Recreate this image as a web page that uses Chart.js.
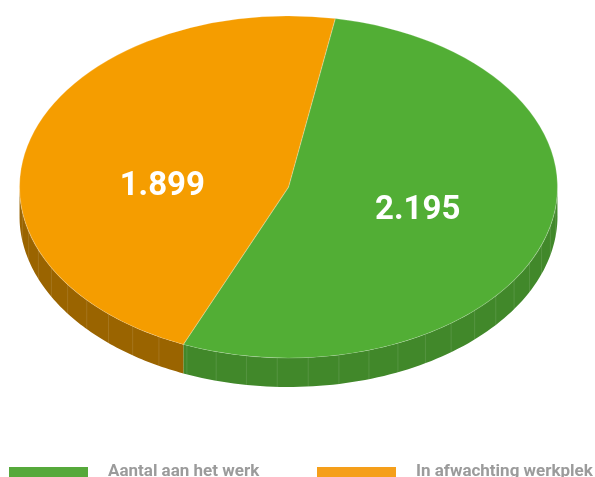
<!DOCTYPE html>
<html>
<head>
<meta charset="utf-8">
<script src="https://cdn.jsdelivr.net/npm/chart.js@4"></script>
<style>
  html, body { margin: 0; padding: 0; background: #fff; }
  #wrap { width: 595px; height: 477px; position: relative; overflow: hidden; }
</style>
</head>
<body>
<div id="wrap"><canvas id="pie" width="595" height="477"></canvas></div>
<script>
'use strict';

// ---- Data ----
const categories = ['Aantal aan het werk', 'In afwachting werkplek'];
const values     = [2195, 1899];

// ---- Styles ----
const topColors  = ['#52ae35', '#f59d00'];
const sideColors = ['#41882a', '#9a6400'];
const legendColors = ['#56a93b', '#f59f1a'];

// 3D ellipse geometry (screen px)
const CX = 288.5, CY = 187, RX = 269, RY = 171, DEPTH = 29;

function fmtNL(v) {
  return String(v).replace(/\B(?=(\d{3})+(?!\d))/g, '.');
}

function ex(t) { return CX + RX * Math.cos(t); }
function ey(t) { return CY + RY * Math.sin(t); }

// parts of [a,b] that face the viewer (lower half of the ellipse)
function visibleRanges(a, b) {
  const out = [];
  for (let k = -2; k <= 2; k++) {
    const lo = Math.max(a, k * 2 * Math.PI);
    const hi = Math.min(b, k * 2 * Math.PI + Math.PI);
    if (hi > lo) out.push([lo, hi]);
  }
  return out;
}

const pie3d = {
  id: 'pie3d',
  beforeDatasetsDraw(chart) {
    const ctx = chart.ctx;
    const meta = chart.getDatasetMeta(0);

    // ---- side walls ----
    meta.data.forEach((arc, i) => {
      visibleRanges(arc.startAngle, arc.endAngle).forEach(([a, b]) => {
        const steps = 80;
        ctx.beginPath();
        for (let s = 0; s <= steps; s++) {
          const t = a + (b - a) * s / steps;
          s === 0 ? ctx.moveTo(ex(t), ey(t)) : ctx.lineTo(ex(t), ey(t));
        }
        for (let s = steps; s >= 0; s--) {
          const t = a + (b - a) * s / steps;
          ctx.lineTo(ex(t), ey(t) + DEPTH);
        }
        ctx.closePath();
        ctx.fillStyle = sideColors[i];
        ctx.fill();

        // faint facet edges
        ctx.strokeStyle = 'rgba(255,255,255,0.11)';
        ctx.lineWidth = 1;
        const step = 6.6 * Math.PI / 180;
        for (let t = Math.ceil(a / step) * step; t < b; t += step) {
          ctx.beginPath();
          ctx.moveTo(ex(t), ey(t));
          ctx.lineTo(ex(t), ey(t) + DEPTH);
          ctx.stroke();
        }
      });
    });

    // ---- squash the top face into the ellipse ----
    const arc0 = meta.data[0];
    const R = arc0.outerRadius;
    ctx.save();
    ctx.translate(CX, CY);
    ctx.scale(RX / R, RY / R);
    ctx.translate(-arc0.x, -arc0.y);
  },
  afterDatasetsDraw(chart) {
    const ctx = chart.ctx;
    ctx.restore();

    // ---- value labels ----
    const meta = chart.getDatasetMeta(0);
    ctx.save();
    ctx.font = 'bold 33px Roboto';
    ctx.fillStyle = '#ffffff';
    ctx.textAlign = 'center';
    ctx.textBaseline = 'middle';
    meta.data.forEach((arc, i) => {
      const mid = (arc.startAngle + arc.endAngle) / 2;
      const x = CX + RX * 0.495 * Math.cos(mid) + 1.5;
      const y = CY + DEPTH / 3 + 2 + RY * 0.24 * Math.sin(mid);
      ctx.fillText(fmtNL(chart.data.datasets[0].data[i]), x, y);
    });
    ctx.restore();
  },
  afterDraw(chart) {
    // ---- legend ----
    const ctx = chart.ctx;
    const boxX = [9, 317];
    ctx.save();
    ctx.font = 'bold 17px Roboto';
    ctx.textBaseline = 'alphabetic';
    ctx.textAlign = 'left';
    chart.data.labels.forEach((lab, i) => {
      ctx.fillStyle = legendColors[i];
      ctx.fillRect(boxX[i], 467, 79, 16);
      ctx.fillStyle = '#9b9b9b';
      ctx.fillText(lab, boxX[i] + 99, 476);
    });
    ctx.restore();
  }
};

new Chart(document.getElementById('pie'), {
  type: 'pie',
  data: {
    labels: categories,
    datasets: [{
      data: values,
      backgroundColor: topColors,
      borderColor: 'rgba(255,255,255,0.22)',
      borderWidth: 1,
      clip: false
    }]
  },
  options: {
    responsive: false,
    animation: false,
    rotation: 10,
    events: [],
    layout: { padding: 10 },
    plugins: {
      legend: { display: false },
      tooltip: { enabled: false }
    }
  },
  plugins: [pie3d]
});
</script>
</body>
</html>
